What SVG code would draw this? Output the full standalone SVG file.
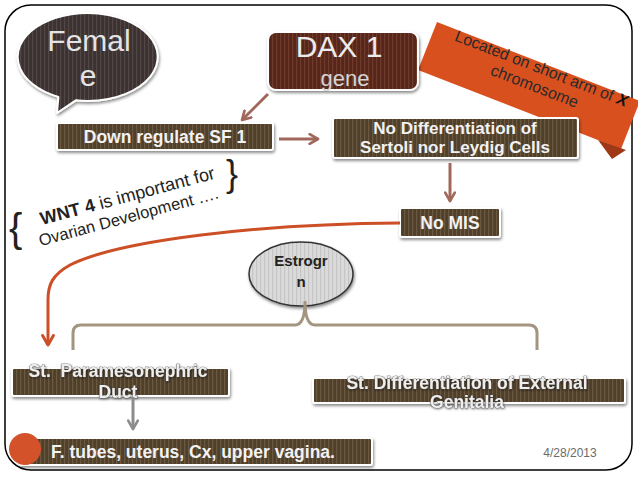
<svg xmlns="http://www.w3.org/2000/svg" width="638" height="479" viewBox="0 0 638 479">
<style>
.bx{stroke:#ffffff;stroke-width:2;filter:url(#sh)}
.bt{font-family:"Liberation Sans",Arial,sans-serif;font-weight:bold;font-size:17.5px;fill:#f2f2f2;text-anchor:middle}
.ot{font-family:"Liberation Sans",Arial,sans-serif;font-weight:bold;font-size:17.5px;fill:#eeeeee;text-anchor:middle;stroke:#4a4a4a;stroke-width:0.6;paint-order:stroke;filter:url(#tsh)}
.conn{fill:none;stroke-width:3}
.plain{font-family:"Liberation Sans",Arial,sans-serif}
</style>
<defs>
<pattern id="pOlive" width="4" height="4" patternUnits="userSpaceOnUse"><rect width="4" height="4" fill="#4f3f2b"/><rect width="1.2" height="4" fill="#6b5942"/></pattern>
<pattern id="pRed" width="4" height="4" patternUnits="userSpaceOnUse"><rect width="4" height="4" fill="#57281c"/><rect width="1.2" height="4" fill="#6e3a2c"/></pattern>
<pattern id="pDark" width="4" height="4" patternUnits="userSpaceOnUse"><rect width="4" height="4" fill="#3b3232"/><rect width="1.2" height="4" fill="#524747"/></pattern>
<pattern id="pGray" width="4" height="4" patternUnits="userSpaceOnUse"><rect width="4" height="4" fill="#dadada"/><rect width="1.2" height="4" fill="#c6c6c6"/></pattern>
<filter id="sh" x="-10%" y="-20%" width="120%" height="150%"><feDropShadow dx="1" dy="2" stdDeviation="1.5" flood-color="#000" flood-opacity="0.45"/></filter>
<filter id="tsh" x="-5%" y="-20%" width="110%" height="150%"><feDropShadow dx="0.5" dy="1" stdDeviation="0.8" flood-color="#000" flood-opacity="0.5"/></filter>
<marker id="mBrown" viewBox="0 0 10 10" refX="8" refY="5" markerWidth="4" markerHeight="4" orient="auto" markerUnits="strokeWidth"><path d="M1,1 L8,5 L1,9" fill="none" stroke="#a0685a" stroke-width="2.2" stroke-linecap="round" stroke-linejoin="round"/></marker>
<marker id="mOrange" viewBox="0 0 10 10" refX="8" refY="5" markerWidth="4.5" markerHeight="4.5" orient="auto" markerUnits="strokeWidth"><path d="M1,1 L8,5 L1,9" fill="none" stroke="#cc4f26" stroke-width="2.2" stroke-linecap="round" stroke-linejoin="round"/></marker>
<marker id="mGray" viewBox="0 0 10 10" refX="8" refY="5" markerWidth="4" markerHeight="4" orient="auto" markerUnits="strokeWidth"><path d="M1,1 L8,5 L1,9" fill="none" stroke="#8c8c8c" stroke-width="2.2" stroke-linecap="round" stroke-linejoin="round"/></marker>
</defs>

<rect x="5" y="5" width="627" height="465" rx="26" fill="#ffffff" stroke="#000" stroke-width="1.5"/>

<g id="banner">
<polygon points="437,22 640,101 621,149 418,70" fill="#d9501f"/>
<polygon points="598,140 626,150 612,159" fill="#9e3816"/>
<g transform="translate(537,80) rotate(21.2)">
<text x="0" y="-7" class="plain" font-size="16" fill="#2a2a2a" text-anchor="middle">Located on short arm of <tspan font-weight="bold" font-style="italic" fill="#111">X</tspan></text>
<text x="0" y="12" class="plain" font-size="16" fill="#2a2a2a" text-anchor="middle">chromosome</text>
</g>
</g>

<g id="female">
<path d="M75.8,100.3 A70,44 0 1 0 58.4,96.9 L57,113 Z" fill="url(#pDark)" class="bx" stroke-linejoin="round"/>
<text x="89" y="51" class="plain" font-size="30" fill="#e4e4e4" text-anchor="middle">Femal</text>
<text x="88" y="86" class="plain" font-size="30" fill="#e4e4e4" text-anchor="middle">e</text>
</g>

<g id="dax1">
<rect x="268" y="32" width="150" height="58" rx="8" fill="url(#pRed)" class="bx"/>
<text x="339" y="57" class="plain" font-size="30" fill="#ececec" text-anchor="middle">DAX 1</text>
<text x="345" y="86" class="plain" font-size="22" fill="#d6d6d6" text-anchor="middle">gene</text>
</g>

<g id="downsf1">
<rect x="57" y="123" width="216" height="27" rx="2" fill="url(#pOlive)" class="bx"/>
<text x="165" y="143" class="bt">Down regulate SF 1</text>
</g>

<g id="nodiff">
<rect x="333" y="118" width="245" height="40" rx="2" fill="url(#pOlive)" class="bx"/>
<text x="455" y="134" class="bt" style="font-size:17px">No Differentiation of</text>
<text x="455" y="153" class="bt" style="font-size:17px">Sertoli nor Leydig Cells</text>
</g>

<g id="nomis">
<rect x="400" y="208" width="100" height="29" rx="2" fill="url(#pOlive)" class="bx"/>
<text x="450" y="229" class="bt">No MIS</text>
</g>

<g id="wnt4">
<g transform="translate(42,225) rotate(-15)">
<text x="0" y="0" class="plain" font-size="18" fill="#222"><tspan font-weight="bold">WNT 4</tspan>  is important for</text>
<text x="-7" y="20" class="plain" font-size="16.5" fill="#222">Ovarian Development ….</text>
</g>
<text x="9" y="242" class="plain" font-size="40" fill="#222">{</text>
<text x="226" y="186" class="plain" font-size="36" fill="#222">}</text>
</g>

<g id="estrogen">
<ellipse cx="301" cy="274" rx="52" ry="32" fill="url(#pGray)" stroke="#333" stroke-width="1.5" filter="url(#sh)"/>
<text x="301" y="266" class="plain" font-size="15" font-weight="bold" fill="#222" text-anchor="middle">Estrogr</text>
<text x="301" y="287" class="plain" font-size="15" font-weight="bold" fill="#222" text-anchor="middle">n</text>
</g>

<g id="paramesonephric">
<rect x="12" y="368" width="217" height="28" rx="2" fill="url(#pOlive)" class="bx"/>
<text x="118" y="377" class="ot" xml:space="preserve">St.  Paramesonephric</text>
<text x="118" y="398" class="ot">Duct</text>
</g>

<g id="external">
<rect x="313" y="378" width="312" height="25" rx="2" fill="url(#pOlive)" class="bx"/>
<text x="467" y="389" class="ot">St. Differentiation of External</text>
<text x="467" y="408" class="ot">Genitalia</text>
</g>

<g id="ftubes">
<rect x="20" y="438" width="352" height="27" rx="2" fill="url(#pOlive)" class="bx"/>
<circle cx="25" cy="449" r="16" fill="#d4522a"/>
<text x="51" y="458" class="bt" style="text-anchor:start">F. tubes, uterus, Cx, upper vagina.</text>
</g>

<g id="connectors">
<path d="M268,94 L242,120" class="conn" stroke="#a0685a" marker-end="url(#mBrown)"/>
<path d="M279,139 L318,139" class="conn" stroke="#a0685a" marker-end="url(#mBrown)"/>
<path d="M450,163 L450,201" class="conn" stroke="#a0685a" marker-end="url(#mBrown)"/>
<path d="M400,223 C260,224 120,240 70,265 C52,275 48,285 48,300 L48,345" class="conn" stroke="#cc4f26" stroke-width="2.5" marker-end="url(#mOrange)"/>
<path d="M73,350 L73,333 Q73,325 81,325 L295,325 Q305,325 305,301 Q305,325 315,325 L529,325 Q537,325 537,333 L537,350" class="conn" stroke="#a39580"/>
<path d="M133,397 L133,429" class="conn" stroke="#8c8c8c" marker-end="url(#mGray)"/>
</g>

<text x="570" y="457" class="plain" font-size="12" fill="#6a6a6a" text-anchor="middle">4/28/2013</text>
</svg>
